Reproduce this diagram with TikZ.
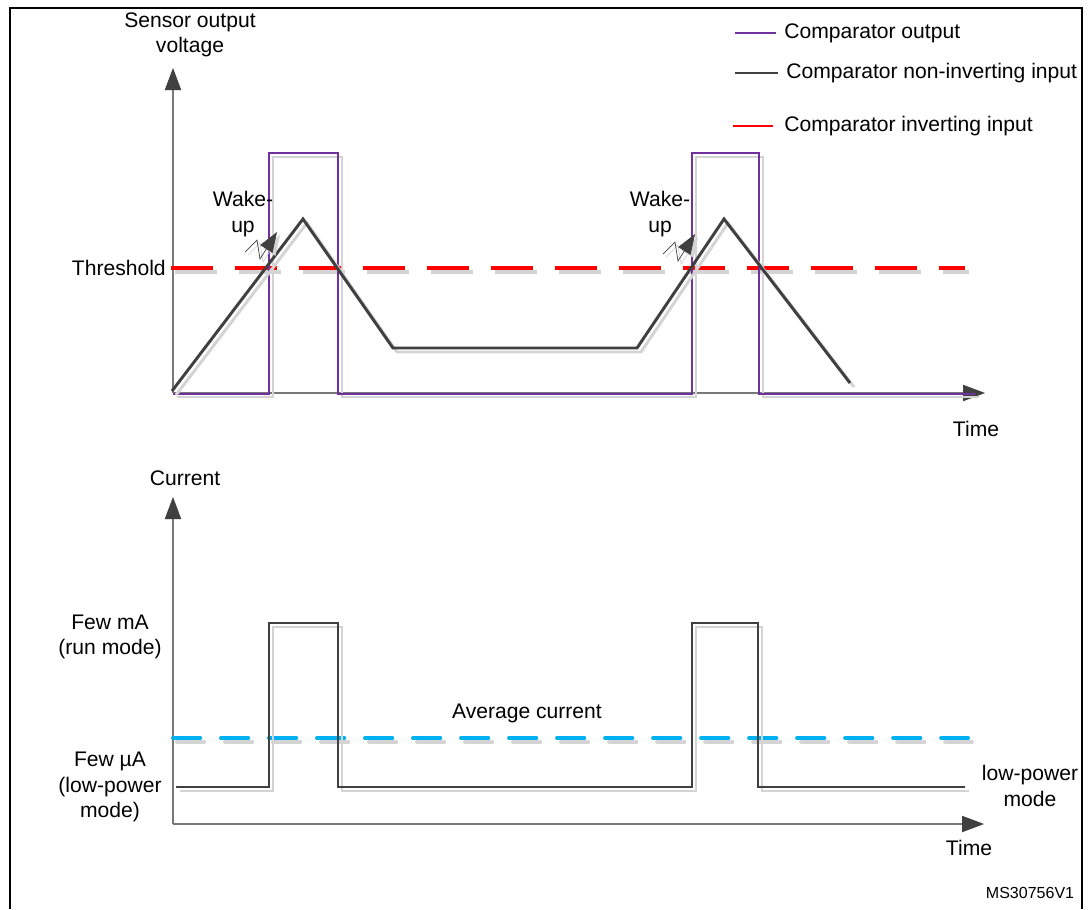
\documentclass[tikz,border=0pt]{standalone}
\usepackage{fontspec}
\setmainfont{Liberation Sans}
\usetikzlibrary{arrows.meta}
\definecolor{cpurple}{RGB}{112,48,160}
\definecolor{cdark}{RGB}{64,64,64}
\definecolor{cshadow}{RGB}{212,212,212}
\definecolor{caxis}{RGB}{120,120,120}
\definecolor{cblue}{RGB}{0,176,240}
\definecolor{cred}{RGB}{255,0,0}
\begin{document}
\begin{tikzpicture}[x=0.025cm,y=-0.025cm,
  font=\fontsize{15pt}{18pt}\selectfont,
  axisline/.style={draw=caxis,line width=1.3pt,-{Triangle[length=0.55cm,width=0.4cm,color=cdark,fill=cdark]}},
  axisshadow/.style={draw=cshadow,line width=1.3pt,-{Triangle[length=0.55cm,width=0.4cm,color=cshadow,fill=cshadow]}},
  shadowline/.style={draw=cshadow},
  outline/.style={draw=cpurple,line width=1.1pt},
  ninline/.style={draw=cdark,line width=2.1pt},
  curline/.style={draw=cdark,line width=1.1pt},
  thrline/.style={draw=cred,line width=2.6pt,dash pattern=on 1.05cm off 0.55cm},
  avgline/.style={draw=cblue,line width=2.9pt,line cap=round,dash pattern=on 0.68cm off 0.52cm},
  bolt/.style={draw=cdark,line width=0.5pt,-{Triangle[length=0.5cm,width=0.36cm,color=cdark,fill=cdark]}},
  boltshadow/.style={draw=cshadow,line width=0.5pt,-{Triangle[length=0.5cm,width=0.36cm,color=cshadow,fill=cshadow]}},
  lbl/.style={align=center,inner sep=0pt},
]
\useasboundingbox (0,0) rectangle (1090,909);
% frame
\draw[line width=2pt] (10,909) -- (10,8) -- (1082,8) -- (1082,909);

% ---------- top chart ----------
\coordinate (o1) at (173,393);
\coordinate (y1) at (173,68);
\coordinate (x1) at (985,393);
\draw[axisshadow,shift={(4,4)}] (o1) -- (y1);
\draw[axisshadow,shift={(4,4)}] (o1) -- (x1);
\draw[axisline] (o1) -- (y1);
\draw[axisline] (o1) -- (x1);

% threshold
\draw[thrline,draw=cshadow,shift={(4,4)}] (171,268) -- (965,268);
\draw[thrline] (171,268) -- (965,268);

% comparator output
\draw[shadowline,line width=1.1pt,shift={(4,4)}] (173,393) -- (269,393) -- (269,153) -- (338,153) -- (338,393) -- (692,393) -- (692,153) -- (759,153) -- (759,393) -- (975,393);
\draw[outline] (173,394) -- (269,394) -- (269,153) -- (338,153) -- (338,394) -- (692,394) -- (692,153) -- (759,153) -- (759,394) -- (975,394);

% non-inverting input
\draw[shadowline,line width=2.1pt,shift={(4,4)}] (172,391) -- (303,219) -- (393,348) -- (637,348) -- (724,219) -- (850,383);
\draw[ninline] (172,391) -- (303,219) -- (393,348) -- (637,348) -- (724,219) -- (850,383);

% wake-up bolts
\draw[boltshadow,shift={(3,3)}] (245,252) -- (257,240) -- (260,259) -- (277,232);
\draw[bolt] (245,252) -- (257,240) -- (260,259) -- (277,232);
\draw[boltshadow,shift={(3,3)}] (663,254) -- (675,242) -- (678,261) -- (695,234);
\draw[bolt] (663,254) -- (675,242) -- (678,261) -- (695,234);
\node[lbl] (wake1) at (243,214) {Wake-\\up};
\node[lbl] (wake2) at (660,214) {Wake-\\up};

\node[lbl] (sov) at (190,35) {Sensor output\\voltage};
\node[lbl,anchor=east] (thr) at (166,268) {Threshold};
\node[lbl] (time1) at (976,429) {Time};

% legend
\coordinate (l1a) at (735,33); \coordinate (l1b) at (776,33);
\coordinate (l2a) at (735,73); \coordinate (l2b) at (778,73);
\coordinate (l3a) at (733,126); \coordinate (l3b) at (773,126);
\draw[shadowline,line width=1.1pt,shift={(1,3)}] (l1a) -- (l1b);
\draw[outline,line width=1.4pt] (l1a) -- (l1b);
\draw[shadowline,line width=1.6pt,shift={(1,3)}] (l2a) -- (l2b);
\draw[ninline,line width=1.6pt] (l2a) -- (l2b);
\draw[shadowline,line width=1.6pt,shift={(1,3)}] (l3a) -- (l3b);
\draw[draw=cred,line width=1.6pt] (l3a) -- (l3b);
\node[lbl,anchor=west] (leg1) at (784,33) {Comparator output};
\node[lbl,anchor=west] (leg2) at (786,73) {Comparator non-inverting input};
\node[lbl,anchor=west] (leg3) at (784,126) {Comparator inverting input};

% ---------- bottom chart ----------
\coordinate (o2) at (173,824);
\coordinate (y2) at (173,497);
\coordinate (x2) at (984,824);
\draw[axisshadow,shift={(4,4)}] (o2) -- (y2);
\draw[axisshadow,shift={(4,4)}] (o2) -- (x2);
\draw[axisline] (o2) -- (y2);
\draw[axisline] (o2) -- (x2);

% average current
\draw[avgline,draw=cshadow,shift={(4,4)}] (173,738) -- (968,738);
\draw[avgline] (173,738) -- (968,738);

% current
\draw[shadowline,line width=1.1pt,shift={(4,4)}] (176,787) -- (269,787) -- (269,623) -- (338,623) -- (338,787) -- (692,787) -- (692,623) -- (758,623) -- (758,787) -- (965,787);
\draw[curline] (176,787) -- (269,787) -- (269,623) -- (338,623) -- (338,787) -- (692,787) -- (692,623) -- (758,623) -- (758,787) -- (965,787);

\node[lbl] (cur) at (185,478) {Current};
\node[lbl] (fewma) at (110,637) {Few mA\\(run mode)};
\node[lbl] (fewua) at (110,787) {Few µA\\(low-power\\mode)};
\node[lbl] (avg) at (527,713) {Average current};
\node[lbl] (lpm) at (1030,786) {low-power\\mode};
\node[lbl] (time2) at (969,848) {Time};
\node[lbl,font=\fontsize{11.4pt}{13pt}\selectfont] (ms) at (1030,893) {MS30756V1};
\end{tikzpicture}
\end{document}
